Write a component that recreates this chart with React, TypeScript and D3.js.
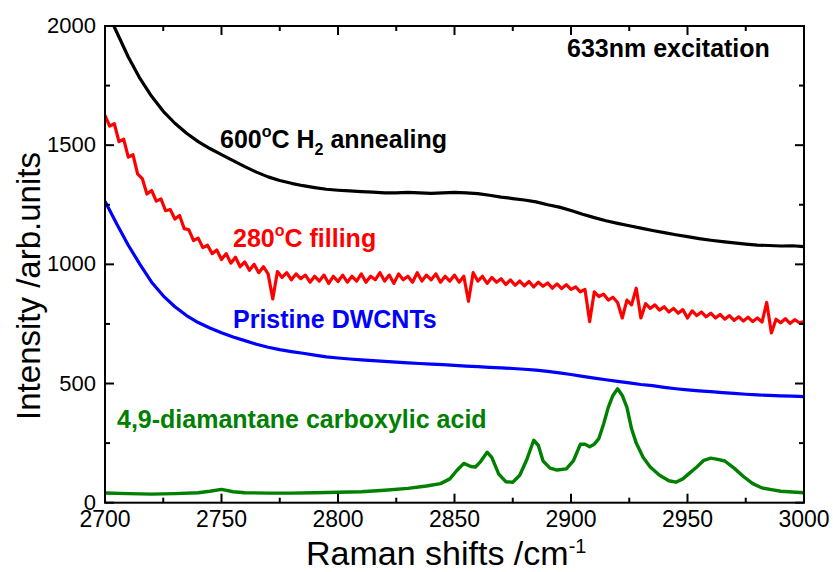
import React from "react";
import * as d3 from "d3";

const xTicks = [2700, 2750, 2800, 2850, 2900, 2950, 3000];
const yTicks = [0, 500, 1000, 1500, 2000];

const blackShift = d3.range(2700, 3001, 5);
const blackValue = [
  2080, 1975, 1870, 1780, 1705, 1642, 1592, 1550, 1515, 1486, 1460, 1435, 1410, 1387, 1367, 1352, 1340, 1330, 1322, 1315,
  1311, 1308, 1305, 1303, 1300, 1300, 1302, 1300, 1298, 1300, 1302, 1300, 1297, 1290, 1282, 1276, 1270, 1262, 1250, 1240,
  1226, 1210, 1196, 1183, 1172, 1162, 1152, 1142, 1133, 1124, 1116, 1108, 1101, 1095, 1090, 1085, 1081, 1079, 1077, 1078, 1074,
];

const blueShift = d3.range(2700, 3001, 5);
const blueValue = [
  1265, 1170, 1080, 1000, 925, 868, 822, 785, 756, 733, 713, 695, 680, 665, 652, 642, 634, 627, 619, 612,
  607, 603, 599, 596, 593, 590, 587, 584, 581, 579, 576, 573, 571, 568, 566, 563, 560, 556, 551, 545,
  538, 530, 523, 516, 509, 503, 496, 491, 484, 478, 473, 469, 466, 462, 459, 455, 452, 450, 448, 447, 445,
];

const redShift = d3.range(2700, 3001, 2);
const redValue = [
  1625, 1580, 1590, 1515, 1525, 1450, 1460, 1380, 1360, 1295,
  1310, 1265, 1275, 1225, 1230, 1190, 1205, 1150, 1145, 1100,
  1110, 1070, 1080, 1045, 1060, 1020, 1045, 1005, 1030, 990,
  1010, 975, 1000, 965, 990, 960, 855, 970, 945, 965,
  935, 960, 940, 955, 925, 950, 930, 955, 920, 950,
  928, 955, 925, 950, 930, 960, 925, 950, 935, 965,
  930, 955, 920, 960, 935, 950, 925, 965, 930, 955,
  935, 960, 925, 950, 930, 955, 925, 950, 845, 965,
  930, 950, 920, 945, 925, 940, 915, 935, 912, 930,
  910, 928, 905, 925, 908, 922, 900, 918, 898, 915,
  895, 905, 885, 895, 760, 885, 865, 875, 850, 862,
  840, 775, 850, 830, 900, 775, 835, 815, 830, 808,
  822, 800, 815, 795, 810, 775, 805, 785, 800, 780,
  795, 775, 790, 770, 785, 765, 780, 762, 778, 760,
  775, 758, 840, 712, 770, 755, 772, 752, 768, 755, 760,
];

const greenShift = [
  2700, 2710, 2720, 2730, 2740, 2745, 2750, 2755, 2760, 2770, 2780, 2790, 2800, 2810, 2820, 2830, 2838, 2844, 2848, 2851,
  2854, 2857, 2859, 2861, 2864, 2866, 2869, 2872, 2875, 2878, 2881, 2884, 2886, 2888, 2891, 2894, 2898, 2901, 2904, 2906,
  2908, 2910, 2912, 2914, 2916, 2918, 2920, 2922, 2924, 2926, 2928, 2931, 2934, 2938, 2942, 2945, 2948, 2951, 2954, 2957,
  2960, 2963, 2966, 2970, 2974, 2978, 2982, 2986, 2990, 2995, 3000,
];
const greenValue = [
  41, 38, 36, 38, 42, 48, 56, 46, 42, 40, 40, 42, 44, 46, 52, 60, 70, 80, 100, 135,
  165, 152, 150, 170, 212, 190, 120, 88, 86, 115, 180, 262, 240, 175, 145, 137, 142, 175, 245, 245,
  235, 245, 270, 330, 400, 450, 478, 450, 400, 310, 250, 190, 150, 115, 92, 86, 100, 125, 150, 178,
  187, 182, 175, 145, 110, 80, 62, 55, 48, 45, 42,
];

const left = 105, right = 804, top = 26, bottom = 502.7;
const font = "Arial, 'Liberation Sans', sans-serif";

export default function App() {
  const x = d3.scaleLinear().domain([2700, 3000]).range([left, right]);
  const y = d3.scaleLinear().domain([0, 2000]).range([bottom, top]);
  const mk = (xs: number[], vs: number[]) =>
    d3.line<number>().x((_, i) => x(xs[i])).y((v) => y(v))(vs) || "";

  const series = [
    { xs: blackShift, vs: blackValue, color: "#000000", w: 3.2 },
    { xs: redShift, vs: redValue, color: "#ff0000", w: 3.2 },
    { xs: blueShift, vs: blueValue, color: "#0000ff", w: 3.2 },
    { xs: greenShift, vs: greenValue, color: "#008000", w: 3.4 },
  ];

  const xMinor = d3.range(2725, 3000, 50);
  const yMinor = d3.range(250, 2000, 500);
  const major = 9, minor = 5;

  return (
    <svg width={833} height={572} style={{ position: "absolute", left: 0, top: 0, background: "#fff" }}>
      <defs>
        <clipPath id="plotclip">
          <rect x={left} y={top} width={right - left} height={bottom - top} />
        </clipPath>
      </defs>
      <g clipPath="url(#plotclip)">
        {series.map((s, i) => (
          <path key={i} d={mk(s.xs, s.vs)} fill="none" stroke={s.color} strokeWidth={s.w} strokeLinejoin="round" />
        ))}
      </g>
      <rect x={left} y={top} width={right - left} height={bottom - top} fill="none" stroke="#000" strokeWidth={2} />
      {xTicks.map((t) => (
        <g key={"xt" + t}>
          <line x1={x(t)} x2={x(t)} y1={bottom} y2={bottom - major} stroke="#000" strokeWidth={2} />
          <line x1={x(t)} x2={x(t)} y1={top} y2={top + major} stroke="#000" strokeWidth={2} />
          <text x={x(t)} y={527} textAnchor="middle" fontFamily={font} fontSize={23}>{t}</text>
        </g>
      ))}
      {xMinor.map((t) => (
        <g key={"xm" + t}>
          <line x1={x(t)} x2={x(t)} y1={bottom} y2={bottom - minor} stroke="#000" strokeWidth={2} />
          <line x1={x(t)} x2={x(t)} y1={top} y2={top + minor} stroke="#000" strokeWidth={2} />
        </g>
      ))}
      {yTicks.map((t) => (
        <g key={"yt" + t}>
          <line x1={left} x2={left + major} y1={y(t)} y2={y(t)} stroke="#000" strokeWidth={2} />
          <line x1={right} x2={right - major} y1={y(t)} y2={y(t)} stroke="#000" strokeWidth={2} />
          <text x={left - 9} y={y(t) + 7} textAnchor="end" fontFamily={font} fontSize={22}>{t}</text>
        </g>
      ))}
      {yMinor.map((t) => (
        <g key={"ym" + t}>
          <line x1={left} x2={left + minor} y1={y(t)} y2={y(t)} stroke="#000" strokeWidth={2} />
          <line x1={right} x2={right - minor} y1={y(t)} y2={y(t)} stroke="#000" strokeWidth={2} />
        </g>
      ))}
      <text transform="translate(40,286) rotate(-90)" textAnchor="middle" fontFamily={font} fontSize={33}>
        Intensity /arb.units
      </text>
      <text x={306} y={565} fontFamily={font} fontSize={34}>
        Raman shifts /cm<tspan fontSize={20} dy={-12}>-1</tspan>
      </text>
      <text x={567} y={57} fontFamily={font} fontSize={25} fontWeight="bold">633nm excitation</text>
      <text x={220} y={148} fontFamily={font} fontSize={25} fontWeight="bold" fill="#000">
        600<tspan fontSize={16} dy={-11}>o</tspan><tspan dy={11}>C H</tspan><tspan fontSize={16} dy={7}>2</tspan><tspan dy={-7}> annealing</tspan>
      </text>
      <text x={233} y={247} fontFamily={font} fontSize={25} fontWeight="bold" fill="#ff0000">
        280<tspan fontSize={16} dy={-11}>o</tspan><tspan dy={11}>C filling</tspan>
      </text>
      <text x={233} y={328} fontFamily={font} fontSize={25} fontWeight="bold" fill="#0000ff">Pristine DWCNTs</text>
      <text x={117} y={428} fontFamily={font} fontSize={25} fontWeight="bold" fill="#008000">4,9-diamantane carboxylic acid</text>
    </svg>
  );
}
